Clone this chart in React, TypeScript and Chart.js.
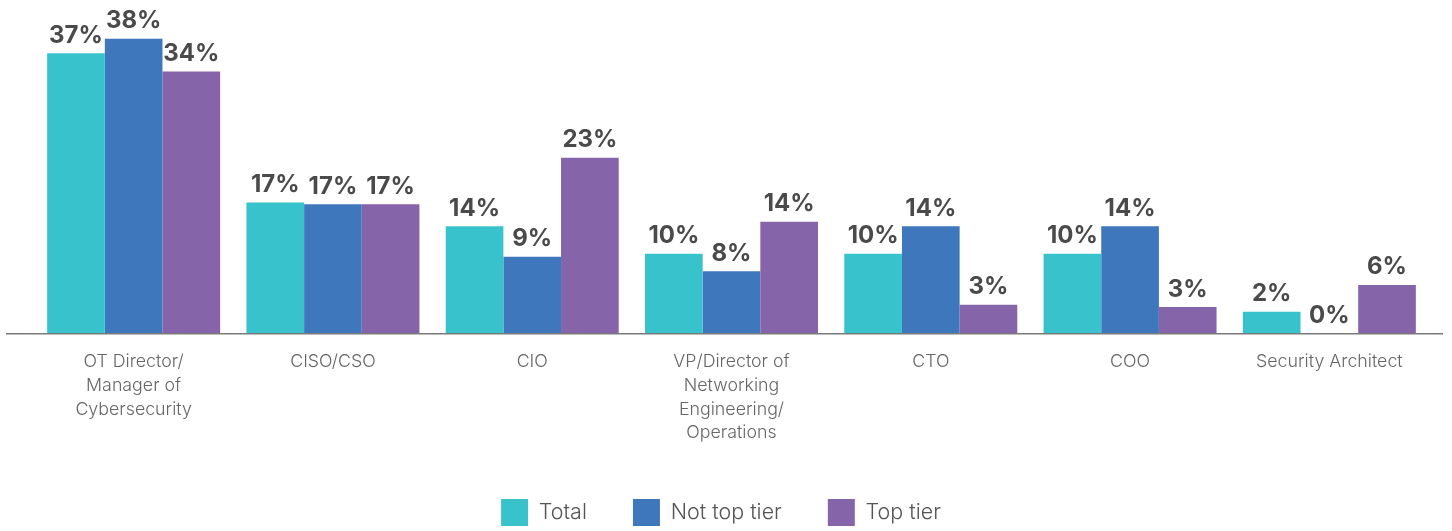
import React, { useEffect, useRef } from 'react';
import { Chart, registerables } from 'chart.js';

Chart.register(...registerables);

const categories: (string | string[])[] = [
  ['OT Director/', 'Manager of', 'Cybersecurity'],
  'CISO/CSO',
  'CIO',
  ['VP/Director of', 'Networking', 'Engineering/', 'Operations'],
  'CTO',
  'COO',
  'Security Architect',
];

const seriesNames = ['Total', 'Not top tier', 'Top tier'];
const seriesColors = ['#38C2CB', '#3F77BD', '#8664AA'];

const totalValues = [36.7, 17.1, 14.0, 10.4, 10.4, 10.4, 2.8];
const notTopTierValues = [38.6, 16.9, 10.0, 8.1, 14.0, 14.0, 0];
const topTierValues = [34.3, 16.9, 23.0, 14.6, 3.7, 3.4, 6.3];

const totalLabels = ['37%', '17%', '14%', '10%', '10%', '10%', '2%'];
const notTopTierLabels = ['38%', '17%', '9%', '8%', '14%', '14%', '0%'];
const topTierLabels = ['34%', '17%', '23%', '14%', '3%', '3%', '6%'];

const yMax = 40;

const legendShiftPlugin = {
  id: 'legendShift',
  afterLayout(chart: any) {
    const lg = chart.legend;
    if (!lg) return;
    lg.left = 0;
    lg.right = 1442;
    lg.top += 5;
    lg.bottom += 5;
  },
};

const valueLabelPlugin = {
  id: 'valueLabels',
  afterDatasetsDraw(chart: any) {
    const { ctx, chartArea } = chart;
    const y0 = chart.scales.y.getPixelForValue(0);
    ctx.save();
    ctx.strokeStyle = '#7a7a7a';
    ctx.lineWidth = 1.5;
    ctx.beginPath();
    ctx.moveTo(chartArea.left - 28, y0 + 0.75);
    ctx.lineTo(chartArea.right + 14, y0 + 0.75);
    ctx.stroke();

    ctx.font = 'bold 24px Inter';
    ctx.fillStyle = '#4a4a4a';
    ctx.textAlign = 'center';
    ctx.textBaseline = 'alphabetic';
    chart.data.datasets.forEach((ds: any, di: number) => {
      const meta = chart.getDatasetMeta(di);
      meta.data.forEach((bar: any, i: number) => {
        ctx.fillText(ds.valueLabels[i], bar.x, bar.y - 10.5);
      });
    });
    ctx.restore();
  },
};

export default function App() {
  const canvasRef = useRef<HTMLCanvasElement>(null);

  useEffect(() => {
    if (!canvasRef.current) return;
    Chart.defaults.font.family = 'Inter';
    const values = [totalValues, notTopTierValues, topTierValues];
    const labels = [totalLabels, notTopTierLabels, topTierLabels];
    const chart = new Chart(canvasRef.current, {
      type: 'bar',
      data: {
        labels: categories,
        datasets: seriesNames.map((name, i) => ({
          label: name,
          data: values[i],
          backgroundColor: seriesColors[i],
          borderWidth: 0,
          barPercentage: 1,
          categoryPercentage: 0.868,
          valueLabels: labels[i],
        })) as any,
      },
      options: {
        animation: false,
        responsive: true,
        maintainAspectRatio: false,
        layout: { padding: { top: 28, left: 34, right: 23, bottom: 0 } },
        plugins: {
          tooltip: { enabled: false },
          legend: {
            position: 'bottom',
            labels: {
              boxWidth: 27,
              boxHeight: 27,
              padding: 46,
              color: '#555555',
              font: { size: 21.5, family: 'Inter', weight: 300 },
            },
          },
        },
        scales: {
          x: {
            grid: { display: false },
            border: { display: false },
            ticks: {
              color: '#666666',
              font: { size: 17.8, family: 'Inter', weight: 300, lineHeight: 1.33 },
              padding: 9,
              maxRotation: 0,
              autoSkip: false,
            },
            afterFit: (scale: any) => {
              scale.height = 115;
            },
          },
          y: {
            display: false,
            min: 0,
            max: yMax,
          },
        },
      },
      plugins: [legendShiftPlugin, valueLabelPlugin],
    });
    return () => chart.destroy();
  }, []);

  return (
    <div style={{ position: 'fixed', left: 0, top: 0, width: 1452, height: 531, background: '#fff' }}>
      <canvas ref={canvasRef} />
    </div>
  );
}
